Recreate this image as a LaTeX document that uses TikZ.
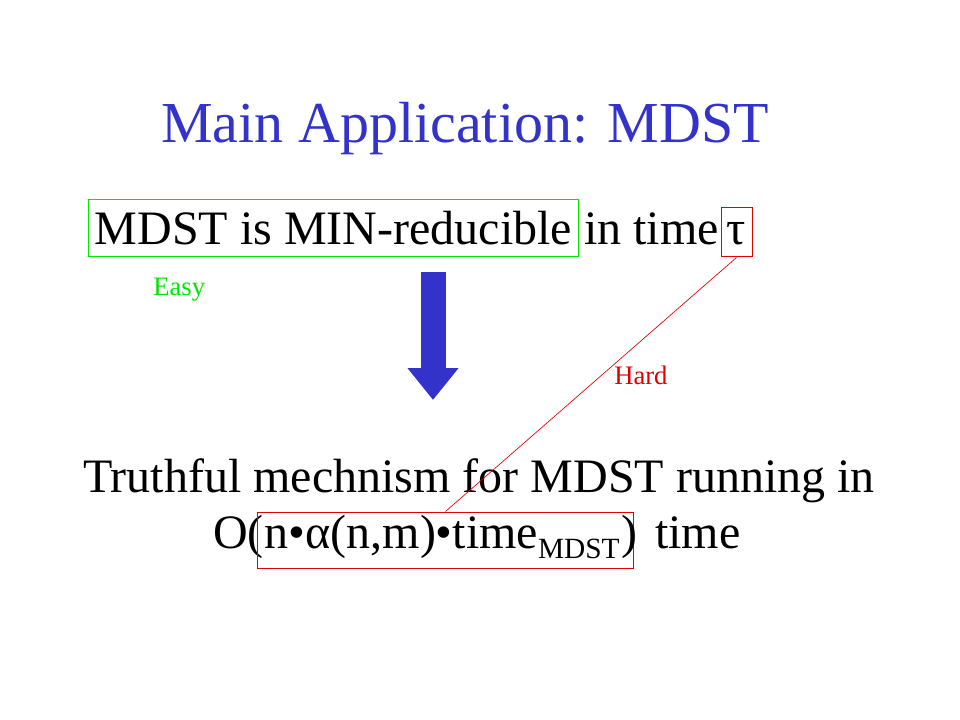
\documentclass[tikz,border=0pt]{standalone}
\usepackage{fontspec}
\setmainfont{Liberation Serif}
\usetikzlibrary{arrows.meta, positioning}
\definecolor{titleblue}{RGB}{51,51,204}
\definecolor{easygreen}{RGB}{0,230,0}
\definecolor{hardred}{RGB}{225,0,0}
\tikzset{
    slidetitle/.style={font=\fontsize{43.5}{48}\selectfont, text=titleblue, inner sep=0pt},
    bodytext/.style={font=\fontsize{36}{40}\selectfont, inner sep=0pt},
    notetext/.style={font=\fontsize{20}{24}\selectfont, inner sep=0pt},
    easybox/.style={draw=easygreen, line width=0.75pt},
    hardbox/.style={draw=hardred, line width=0.75pt},
    hardline/.style={draw=hardred, line width=0.5pt},
    bigarrow/.style={draw=titleblue, line width=18.75pt, -{Triangle[width=36.75pt, length=24pt]}}
}
\begin{document}
\begin{tikzpicture}[x=0.75pt, y=-0.75pt]
\useasboundingbox (0,0) rectangle (960,720);

% Title
\node[slidetitle, anchor=base] (title) at (465,143) {Main Application: MDST};

% Reduction statement (top)
\node[bodytext, easybox, anchor=base west, minimum width=367.5pt, text height=30.75pt, text depth=6pt, inner ysep=3pt] (reduc) at (88,245) {MDST is MIN-reducible};
\node[bodytext, anchor=base west] (intime) at (584,245) {in time};
\node[bodytext, hardbox, anchor=base, minimum width=23.25pt, text height=27.75pt, text depth=9pt] (tau) at (736.5,245) {τ};

% Labels
\node[notetext, text=easygreen, anchor=base west] (easy) at (153,296) {Easy};
\node[notetext, text=hardred, anchor=base west] (hard) at (614,384) {Hard};

% Implication arrow
\coordinate (arrowtop) at (433,272);
\coordinate (arrowtip) at (433,400);
\draw[bigarrow] (arrowtop) -- (arrowtip);

% Mechanism statement (bottom)
\node[bodytext, anchor=base] (truthful) at (479,492) {Truthful mechnism for MDST running in};
\node[bodytext, anchor=base west] (bigo) at (213,548) {O(};
\node[bodytext, hardbox, anchor=base west, minimum width=282pt, text height=27pt, text depth=15pt] (bound) at (257,548) {n•α(n,m)•time\raisebox{-7.5pt}{\fontsize{22}{22}\selectfont MDST}\kern5pt};
\node[bodytext, anchor=base west] (paren) at (621,548) {)};
\node[bodytext, anchor=base west] (timeword) at (655,548) {time};

% Hard part link
\draw[hardline] (tau.south) -- (bound.north);

\end{tikzpicture}
\end{document}
